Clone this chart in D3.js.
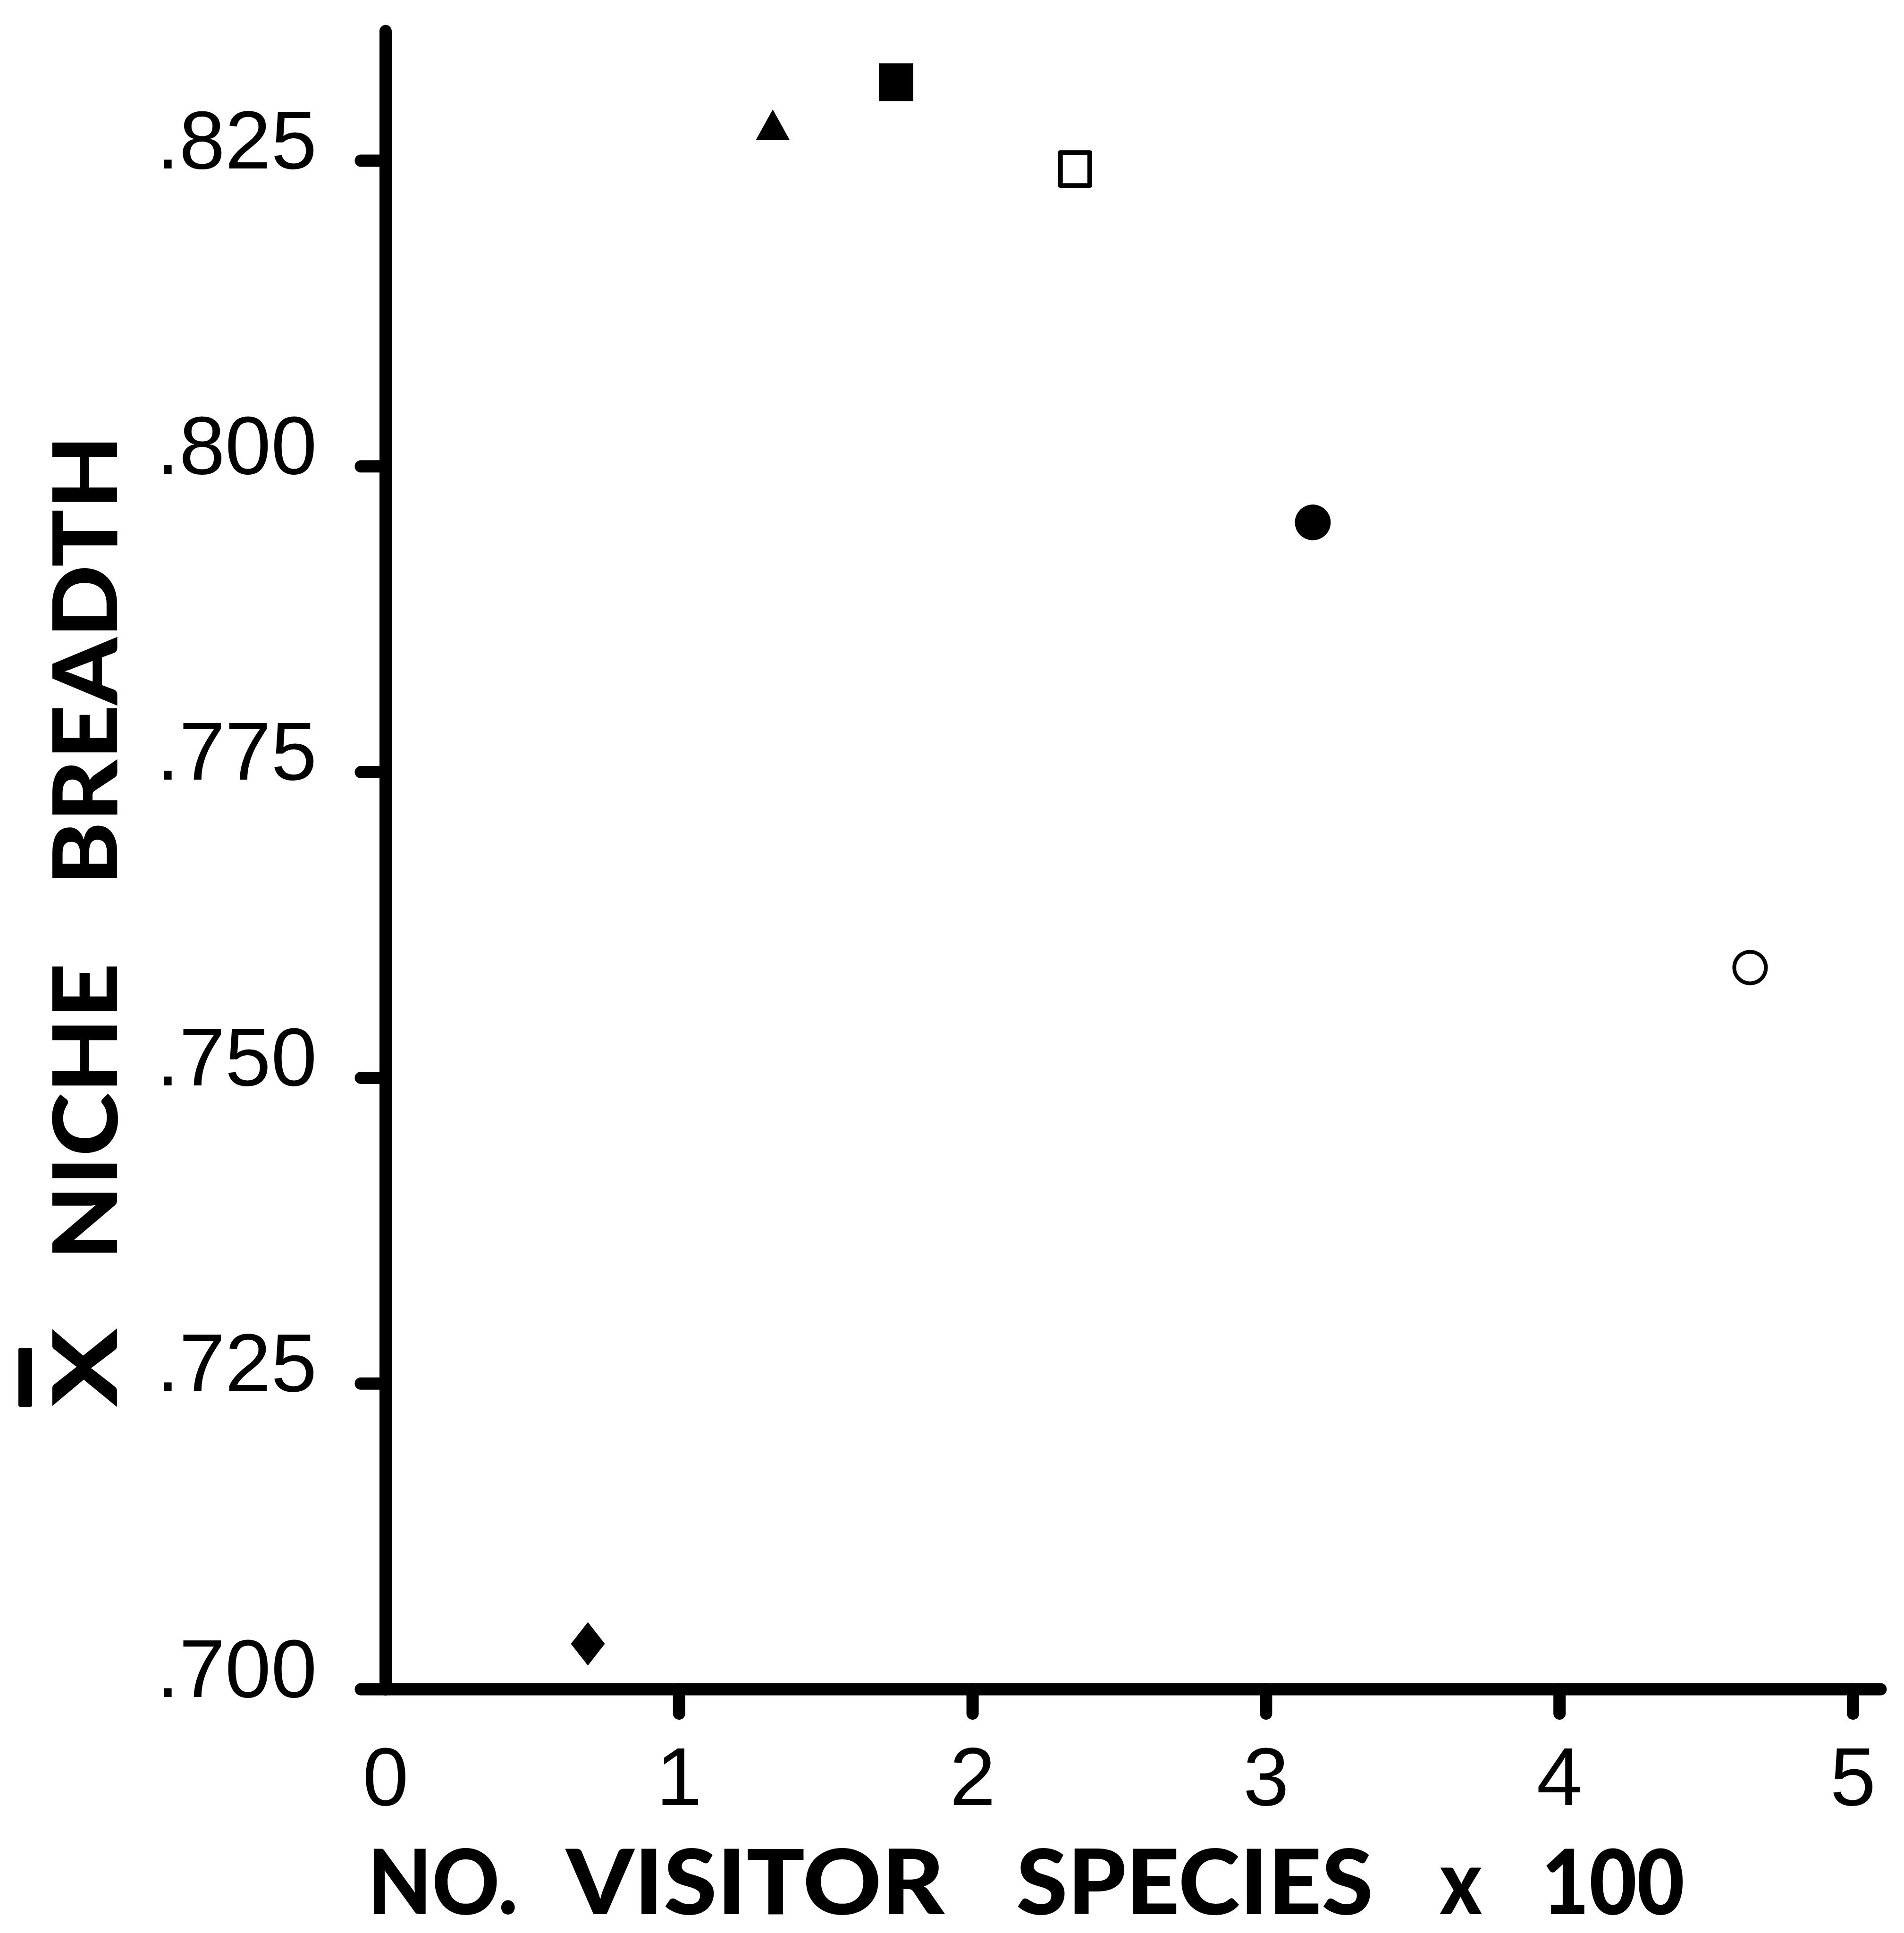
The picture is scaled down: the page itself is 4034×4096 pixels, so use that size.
<!DOCTYPE html>
<html lang="en">
<head>
<meta charset="UTF-8" />
<title>Mean niche breadth vs number of visitor species</title>
<script src="https://d3js.org/d3.v7.min.js"></script>
<style>
    html, body { margin: 0; padding: 0; background: #fff; }
    svg { display: block; }
    .title { font-family: Lato, "DejaVu Sans", sans-serif; font-weight: 900; fill: #000; }
</style>
</head>
<body>
<div id="chart"></div>
<script>
    // values
    const visitorSpecies = [0.69, 1.32, 1.74, 2.35, 3.16, 4.65];      // no. visitor species x 100
    const nicheBreadth = [0.7037, 0.8275, 0.8314, 0.8243, 0.7954, 0.7590];
    const markerTypes = ["diamond", "triangle", "square", "openSquare", "circle", "openCircle"];

    const xTicks = [0, 1, 2, 3, 4, 5];
    const xTickLabels = ["0", "1", "2", "3", "4", "5"];
    const yTicks = [0.700, 0.725, 0.750, 0.775, 0.800, 0.825];
    const yTickLabels = [".700", ".725", ".750", ".775", ".800", ".825"];
    const xAxisEnd = 5.094;   // axis lines run a bit past the last tick
    const yAxisEnd = 0.8356;

    const width = 4034, height = 4096;
    const axisStroke = 26;

    const left = 816.5, bottom = 3579;
    const xUnit = 621.8;      // px per 1 unit on x
    const yUnit = 25912;      // px per 1.0 on y

    const x = d3.scaleLinear()
        .domain([0, xAxisEnd])
        .range([left, left + xUnit * xAxisEnd]);

    const y = d3.scaleLinear()
        .domain([0.700, yAxisEnd])
        .range([bottom, bottom - yUnit * (yAxisEnd - 0.700)]);

    const svg = d3.select("#chart")
        .append("svg")
        .attr("width", width)
        .attr("height", height);

    function styleAxis(g) {
        g.attr("font-family", "'Liberation Sans', Arial, sans-serif")
            .attr("font-size", 175);
        g.select(".domain")
            .attr("stroke", "#000")
            .attr("stroke-width", axisStroke)
            .attr("stroke-linecap", "round");
        g.selectAll(".tick line")
            .attr("stroke", "#000")
            .attr("stroke-width", axisStroke)
            .attr("stroke-linecap", "round");
        g.selectAll(".tick text").attr("fill", "#000");
    }

    // Y axis
    svg.append("g")
        .attr("transform", `translate(${left},0)`)
        .call(d3.axisLeft(y)
            .tickValues(yTicks)
            .tickFormat((d, i) => yTickLabels[i])
            .tickSizeInner(52)
            .tickSizeOuter(0))
        .call(styleAxis)
        .call(g => g.selectAll(".tick text")
            .attr("x", -145)
            .attr("dy", null)
            .attr("y", 16)
            .attr("text-anchor", "end"));

    // X axis
    svg.append("g")
        .attr("transform", `translate(0,${bottom})`)
        .call(d3.axisBottom(x)
            .tickValues(xTicks)
            .tickFormat((d, i) => xTickLabels[i])
            .tickSizeInner(52)
            .tickSizeOuter(0))
        .call(styleAxis)
        .call(g => g.selectAll(".tick text")
            .attr("y", 246)
            .attr("dy", null))
        .call(g => g.selectAll(".tick")
            .filter(d => d === 0)
            .select("line").remove());

    // markers
    function markerPath(type) {
        const p = d3.path();
        if (type === "diamond") {
            const w = 72, h = 92;
            p.moveTo(0, -h / 2); p.lineTo(w / 2, 0); p.lineTo(0, h / 2); p.lineTo(-w / 2, 0); p.closePath();
        } else if (type === "triangle") {
            const w = 72, h = 65;
            p.moveTo(0, -2 * h / 3); p.lineTo(w / 2, h / 3); p.lineTo(-w / 2, h / 3); p.closePath();
        } else if (type === "square") {
            p.rect(-36.5, -40, 73, 80);
        } else if (type === "openSquare") {
            p.rect(-31, -35, 62, 70);
        } else if (type === "circle") {
            p.arc(0, 0, 38, 0, 2 * Math.PI);
        } else {
            p.arc(0, 0, 33.5, 0, 2 * Math.PI);
        }
        return p.toString();
    }

    const points = visitorSpecies.map((v, i) => ({ x: v, y: nicheBreadth[i], type: markerTypes[i] }));
    const hollow = t => t === "openSquare" || t === "openCircle";

    svg.append("g")
        .selectAll("path")
        .data(points)
        .join("path")
        .attr("transform", d => `translate(${x(d.x)},${y(d.y)})`)
        .attr("d", d => markerPath(d.type))
        .attr("fill", d => hollow(d.type) ? "none" : "#000")
        .attr("stroke", d => hollow(d.type) ? "#000" : "none")
        .attr("stroke-width", d => d.type === "openSquare" ? 10 : 8)
        .attr("stroke-linejoin", "round");

    // X axis title, word by word
    const xTitle = [
        { t: "NO.", a: 778.6, b: 1097.3 },
        { t: "VISITOR", a: 1199.2, b: 2001.3 },
        { t: "SPECIES", a: 2152.9, b: 2909.2 },
        { t: "x", a: 3050.6, b: 3139.7 },
        { t: "100", a: 3266, b: 3569 }
    ];
    svg.append("g")
        .selectAll("text")
        .data(xTitle)
        .join("text")
        .attr("class", "title")
        .attr("font-size", 190)
        .attr("x", d => d.a)
        .attr("y", 4056)
        .attr("textLength", d => d.b - d.a)
        .attr("lengthAdjust", "spacingAndGlyphs")
        .text(d => d.t);

    // Y axis title (rotated), word by word
    const yTitle = [
        { t: "X", a: 2981, b: 2815 },
        { t: "NICHE", a: 2670, b: 2040.5 },
        { t: "BREADTH", a: 1875.9, b: 922.3 }
    ];
    const yt = svg.append("g")
        .attr("transform", "translate(248,0) rotate(-90)");
    yt.selectAll("text")
        .data(yTitle)
        .join("text")
        .attr("class", "title")
        .attr("font-size", 188)
        .attr("x", d => -d.a)
        .attr("y", 0)
        .attr("textLength", d => d.a - d.b)
        .attr("lengthAdjust", "spacingAndGlyphs")
        .text(d => d.t);

    // bar over the X (mean)
    svg.append("rect")
        .attr("x", 39)
        .attr("y", 2856)
        .attr("width", 29)
        .attr("height", 125)
        .attr("rx", 4)
        .attr("fill", "#000");
</script>
</body>
</html>
